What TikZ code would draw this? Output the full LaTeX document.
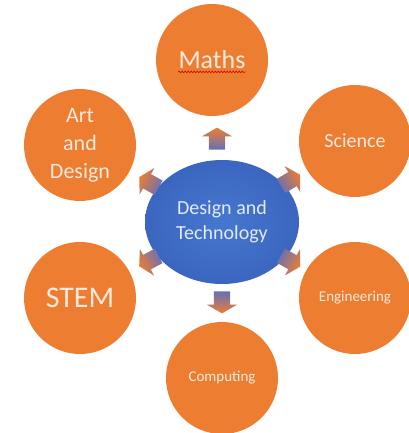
\documentclass[tikz,border=0pt]{standalone}
\usepackage{fontspec}
\setmainfont{Carlito}
\usepackage{tikz}
\usetikzlibrary{positioning, calc, shapes.geometric, shapes.arrows, decorations.pathmorphing}
\definecolor{dtorange}{HTML}{ED7D31}
\definecolor{dtblue}{HTML}{4677CF}
\definecolor{dtbluedeep}{HTML}{3B66C0}
\definecolor{dtcream}{HTML}{FBE9DD}
\definecolor{dtpale}{HTML}{E3EAF8}
\definecolor{dttail}{HTML}{6670B8}

\begin{document}
\begin{tikzpicture}[x=1pt, y=-1pt,
  topic/.style={circle, fill=dtorange, minimum size=112pt, inner sep=0pt, align=center, text=dtcream},
  hub/.style={ellipse, inner color=dtblue, outer color=dtbluedeep, minimum width=154pt, minimum height=124pt, inner sep=0pt, align=center, text=dtpale, font=\fontsize{20}{25}\selectfont},
  flow/.style={single arrow, minimum height=22pt, inner xsep=0pt, inner ysep=8pt, single arrow head extend=7pt, single arrow tip angle=120, top color=dtorange, middle color=dtorange, bottom color=dttail, shading angle=#1-90, rotate=#1},
  squiggle/.style={red!85!black, line width=0.6pt, decorate, decoration={snake, amplitude=0.8pt, segment length=3pt}}
]
  \useasboundingbox (0,0) rectangle (408,433);

  \node[hub] (hub) at (222,222) {Design and\\Technology};

  \node[topic] (maths) at (212,60) {};
  \node[text=dtcream, inner sep=0pt, font=\fontsize{26}{30}\selectfont] (mathslbl) at (maths) {Maths};
  \node[topic, font=\fontsize{20}{24}\selectfont] (science) at (355,141) {Science};
  \node[topic, font=\fontsize{15}{18}\selectfont] (eng) at (355,298) {Engineering};
  \node[topic, font=\fontsize{15}{18}\selectfont] (comp) at (222,378) {Computing};
  \node[topic, font=\fontsize{30}{34}\selectfont] (stem) at (80,298) {STEM};
  \node[topic, font=\fontsize{22}{28}\selectfont] (art) at (80,145) {Art\\and\\Design};

  \draw[squiggle] ([yshift=-3pt]mathslbl.base west) -- ([yshift=-3pt]mathslbl.base east);

  \node[flow=90] (tomaths) at ($(hub)!0.5!(maths)$) {};
  \node[flow=31] (toscience) at ($(hub)!0.5!(science)$) {};
  \node[flow=-30] (toeng) at ($(hub)!0.5!(eng)$) {};
  \node[flow=-90] (tocomp) at ($(hub)!0.5!(comp)$) {};
  \node[flow=208] (tostem) at ($(hub)!0.5!(stem)$) {};
  \node[flow=151] (toart) at ($(hub)!0.5!(art)$) {};
\end{tikzpicture}
\end{document}
